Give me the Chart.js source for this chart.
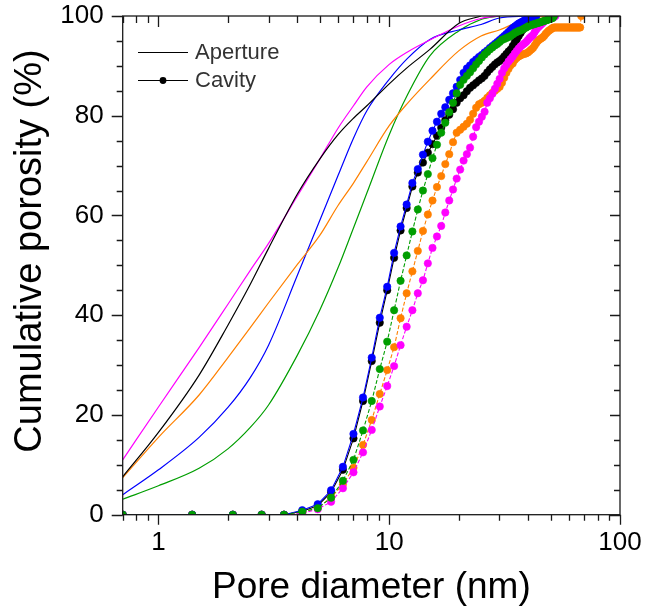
<!DOCTYPE html>
<html>
<head>
<meta charset="utf-8">
<script src="https://cdn.jsdelivr.net/npm/chart.js@4.4.1/dist/chart.umd.min.js"></script>
<style>
  html, body { margin: 0; padding: 0; background: #fff; }
  #wrap { width: 645px; height: 614px; }
</style>
</head>
<body>
<div id="wrap"><canvas id="mycanvas" width="645" height="614"></canvas></div>
<script>
// aperture curves (solid lines), diameters in nm
var apertureDiam = [0.7, 1, 1.5, 2, 2.5, 3, 4, 5, 6, 7, 8, 10, 12, 15, 20, 25, 30, 40, 50];
var apBlack   = [7.6, 16.5, 28, 38, 46.2, 53.4, 64.3, 71.3, 76.2, 79.5, 82, 86.4, 89.7, 93.3, 98.5, 100];
var apMagenta = [11, 21.6, 33.5, 42.2, 49, 54.4, 63.9, 71.3, 77.5, 82, 85.8, 90.3, 92.8, 95.2, 98, 99.5, 100];
var apOrange  = [7.4, 15.5, 24, 31.5, 37.5, 42.5, 50.2, 56, 62, 66.5, 70.8, 78, 82.5, 87.3, 93, 96, 97.2, 99.5, 100];
var apBlue    = [4, 9, 15.5, 21.5, 27.5, 34, 48, 59, 68, 75.5, 81, 87.3, 91.5, 95.3, 97.2, 98.3, 99.6, 100];
var apGreen   = [3.1, 5.8, 9.3, 13.2, 17.5, 22, 32, 41, 49.5, 57.5, 64.5, 76.2, 84.2, 92, 97, 99.3, 100];

// cavity curves (dots), diameters in nm
var cavityDiam = [0.7, 1.4, 2.1, 2.8, 3.5, 4.2, 4.9, 5.6, 6.3, 7.0, 7.7, 8.4, 9.1, 9.8, 10.5, 11.2, 11.9, 12.6, 13.3, 14.0,
  14.7, 15.4, 16.1, 16.8, 17.5, 18.2, 18.9, 19.6, 20.3, 21.0, 21.7, 22.4, 23.1, 23.8, 24.5, 25.2, 25.9, 26.6, 27.3, 28.0,
  28.7, 29.4, 30.1, 30.8, 31.5, 32.2, 32.9, 33.6, 34.3, 35.0, 35.7, 36.4, 37.1, 37.8, 38.5, 39.2, 39.9, 40.6, 41.3, 42.0,
  42.7, 43.4, 44.1, 44.8, 45.5, 46.2, 46.9, 47.6, 48.3, 49.0, 49.7, 50.4, 51.1, 51.8, 52.5, 53.2, 53.9, 54.6, 55.3, 56.0,
  56.7, 57.4, 58.1, 58.8, 59.5, 60.2, 60.9, 61.6, 62.3, 63.0, 63.7, 64.4, 65.1, 65.8, 66.5, 67.2, 67.9];
var cavBlack = [0, 0, 0, 0, 0, 0.7, 1.8, 4.5, 9, 15.3, 22.8, 30.8, 38.5, 45, 51.5, 57, 61.5, 65.8, 68.6, 70.6,
  72.6, 74.3, 76, 77.6, 79.1, 80.2, 81.3, 82.6, 83.5, 84.1, 84.9, 85.6, 86.1, 86.6, 87.1, 87.5, 88, 88.7, 89.3, 89.8,
  90.3, 90.7, 91, 91.4, 91.9, 92.4, 92.9, 93.3, 94, 94.7, 95.3, 96, 96.6, 97.2, 97.7, 98.2, 98.7, 99.1, 99.5, 99.8, 100];
var cavBlue = [0, 0, 0, 0, 0, 0.9, 2.1, 4.9, 9.6, 16.2, 23.5, 31.5, 39.5, 45.7, 52.5, 57.8, 62.2, 66.5, 69.3, 72.2,
  74.8, 77, 78.8, 80.4, 81.7, 83.2, 84.5, 85.8, 87.2, 88.6, 89.5, 90.1, 90.8, 91.3, 91.8, 92.2, 92.7, 93.1, 93.6, 94,
  94.4, 94.8, 95.2, 95.6, 96, 96.4, 96.8, 97.2, 97.6, 97.9, 98.2, 98.5, 98.7, 98.9, 99.1, 99.3, 99.5, 99.6, 99.7, 99.8,
  99.9, 100];
var cavGreen = [0, 0, 0, 0, 0, 0.6, 1.3, 3.4, 6.8, 11, 16.9, 22.8, 29.2, 34.7, 41, 46.9, 52, 56.8, 61.2, 65,
  68.3, 71.5, 74.2, 76.6, 78.6, 80.7, 82.6, 84.5, 86.2, 87.2, 88, 88.7, 89.5, 90.3, 91, 91.7, 92.3, 92.8, 93.3, 93.7,
  94.1, 94.4, 94.8, 95.2, 95.4, 95.6, 95.8, 96, 96.3, 96.6, 96.8, 97, 97.1, 97.3, 97.5, 97.7, 97.9, 98.1, 98.2, 98.3,
  98.4, 98.5, 98.6, 98.7, 98.8, 98.9, 99, 99.1, 99.2, 99.3, 99.4, 99.5, 99.6, 100];
var cavMagenta = [0, 0, 0, 0, 0, 0.3, 1.1, 2.6, 5.3, 8.5, 12.5, 17, 21.7, 25.8, 29.8, 34, 37.7, 41, 44.4, 47,
  50.4, 53.5, 55.8, 57.9, 60.6, 63, 65.2, 67.4, 69.2, 71, 72.3, 73.6, 75.8, 77.7, 78.8, 79.8, 80.8, 82.6, 83.5, 84.4,
  85.4, 86.4, 87.4, 88.6, 89.5, 90.2, 90.9, 91.4, 91.9, 92.5, 93, 93.5, 93.9, 94.2, 94.5, 94.8, 95.2, 95.6, 95.9, 96.2,
  96.8, 97.3, 97.7, 98, 98.3, 98.6, 98.9, 99.1, 99.3, 99.4, 99.5, 99.6, 99.7, 99.8, 100];
var cavOrange = [0, 0, 0, 0, 0, 0.4, 1.4, 3.4, 6.1, 9.4, 14, 19, 24.2, 29, 33.6, 39.4, 44.4, 48.8, 52.9, 56.9,
  60.2, 63, 65.7, 67.9, 70.3, 72.3, 74.7, 76.6, 77.2, 77.8, 78.4, 79.2, 80.4, 81.6, 82.3, 82.6, 83, 83.6, 84.1, 84.6,
  85, 85.4, 85.8, 86.6, 87.6, 88.6, 89.4, 90.1, 90.5, 91.2, 91.6, 91.9, 92.1, 92.3, 92.4, 92.5, 92.7, 93, 93.3, 93.6,
  94.1, 94.6, 95, 95.3, 95.5, 95.7, 96, 96.4, 96.7, 97, 97.2, 97.4, 97.6, 97.7, 97.7, 97.7, 97.7, 97.7, 97.7, 97.7,
  97.7, 97.7, 97.7, 97.7, 97.7, 97.7, 97.7, 97.7, 97.7, 97.7, 97.7, 97.7, 97.7, 97.7, 97.7, 97.7, 100];

var xTickLabels = [1, 10, 100];
var yTickLabels = [0, 20, 40, 60, 80, 100];

var BLACK = '#000000', MAGENTA = '#ff00ff', ORANGE = '#ff8000', BLUE = '#0000ff', GREEN = '#009e00';
var FONT = '"Liberation Sans", Arial, sans-serif';

function pts(xs, ys) {
    var out = [];
    for (var i = 0; i < ys.length; i++) out.push({x: xs[i], y: ys[i]});
    return out;
}

function cavity(label, ys, color, dash, order) {
    return {
        label: label, data: pts(cavityDiam, ys), order: order,
        borderColor: color, backgroundColor: color, borderWidth: 1.1, borderDash: dash,
        pointRadius: 3.7, pointBorderWidth: 0.6, pointBorderColor: color, pointBackgroundColor: color,
        showLine: true, tension: 0
    };
}

function aperture(label, ys, color, order) {
    return {
        label: label, data: pts(apertureDiam, ys), order: order,
        borderColor: color, backgroundColor: color, borderWidth: 1.2,
        pointRadius: 0, showLine: true, cubicInterpolationMode: 'monotone'
    };
}

var datasets = [
    cavity('Cavity green', cavGreen, GREEN, [4, 2], 0),
    cavity('Cavity blue', cavBlue, BLUE, [], 1),
    cavity('Cavity magenta', cavMagenta, MAGENTA, [4, 2], 2),
    cavity('Cavity orange', cavOrange, ORANGE, [4, 2], 3),
    cavity('Cavity black', cavBlack, BLACK, [], 4),
    aperture('Aperture black', apBlack, BLACK, 5),
    aperture('Aperture magenta', apMagenta, MAGENTA, 6),
    aperture('Aperture orange', apOrange, ORANGE, 7),
    aperture('Aperture blue', apBlue, BLUE, 8),
    aperture('Aperture green', apGreen, GREEN, 9)
];

// frame, tick marks, y title and the small legend box
var framePlugin = {
    id: 'frame',
    afterDraw: function(chart) {
        var ctx = chart.ctx, a = chart.chartArea;
        var xs = chart.scales.x, ys = chart.scales.y;
        ctx.save();
        ctx.strokeStyle = '#1a1a1a';
        ctx.lineWidth = 1.3;
        ctx.strokeRect(a.left, a.top, a.right - a.left, a.bottom - a.top);

        var xt = [0.7, 0.8, 0.9];
        for (var d = 1; d <= 100; d *= 10) {
            for (var m = 1; m <= 9; m++) { if (d * m <= 100) xt.push(d * m); }
        }
        ctx.beginPath();
        xt.forEach(function(v) {
            var px = Math.round(xs.getPixelForValue(v)) + 0.5;
            var major = xTickLabels.indexOf(v) >= 0;
            var len = major ? 10 : 6;
            ctx.moveTo(px, a.bottom); ctx.lineTo(px, a.bottom + len);
            ctx.moveTo(px, a.top); ctx.lineTo(px, a.top + (major ? 11 : 7));
        });
        for (var v = 0; v <= 100; v += 5) {
            var py = Math.round(ys.getPixelForValue(v)) + 0.5;
            var maj = v % 20 === 0;
            ctx.moveTo(a.left, py); ctx.lineTo(a.left - (maj ? 11 : 6), py);
            ctx.moveTo(a.right, py); ctx.lineTo(a.right - (maj ? 10 : 6), py);
        }
        ctx.stroke();

        // y axis title
        ctx.save();
        ctx.translate(31, 251);
        ctx.rotate(-Math.PI / 2);
        ctx.fillStyle = '#000';
        ctx.font = '38px ' + FONT;
        ctx.textAlign = 'center';
        ctx.textBaseline = 'middle';
        ctx.fillText('Cumulative porosity (%)', 0, 0);
        ctx.restore();

        // legend
        ctx.strokeStyle = '#000';
        ctx.lineWidth = 1.2;
        ctx.beginPath();
        ctx.moveTo(138, 52.5); ctx.lineTo(188, 52.5);
        ctx.moveTo(138, 80.5); ctx.lineTo(188, 80.5);
        ctx.stroke();
        ctx.fillStyle = '#000';
        ctx.beginPath();
        ctx.arc(163, 80.5, 3.4, 0, Math.PI * 2);
        ctx.fill();
        ctx.fillStyle = '#333';
        ctx.font = '22px ' + FONT;
        ctx.textBaseline = 'middle';
        ctx.fillText('Aperture', 195, 53);
        ctx.fillText('Cavity', 195, 81);
        ctx.restore();
    }
};

Chart.defaults.font.family = FONT;
Chart.defaults.color = '#000';

var ctx = document.getElementById('mycanvas');
var chart = new Chart(ctx, {
    type: 'scatter',
    data: { datasets: datasets },
    options: {
        responsive: false,
        animation: false,
        layout: { padding: { top: 16, right: 25, left: 0, bottom: 0 } },
        plugins: { legend: { display: false }, tooltip: { enabled: false } },
        scales: {
            x: {
                type: 'logarithmic', min: 0.7, max: 100,
                grid: { display: false, drawTicks: false },
                border: { display: false },
                afterBuildTicks: function(s) { s.ticks = xTickLabels.map(function(v) { return {value: v}; }); },
                afterFit: function(s) { s.height = 99.3; s.paddingLeft = 0; s.paddingRight = 0; },
                ticks: { font: { size: 26 }, padding: 13, maxRotation: 0, autoSkip: false,
                         callback: function(v) { return String(v); } },
                title: { display: true, text: 'Pore diameter (nm)', font: { size: 37 }, padding: { bottom: 4 } }
            },
            y: {
                min: 0, max: 100,
                grid: { display: false, drawTicks: false },
                border: { display: false },
                afterBuildTicks: function(s) { s.ticks = yTickLabels.map(function(v) { return {value: v}; }); },
                afterFit: function(s) { s.width = 122.7; s.paddingTop = 0; s.paddingBottom = 0; },
                ticks: { font: { size: 26 }, padding: 19 },
                title: { display: false }
            }
        }
    },
    plugins: [framePlugin]
});
</script>
</body>
</html>
